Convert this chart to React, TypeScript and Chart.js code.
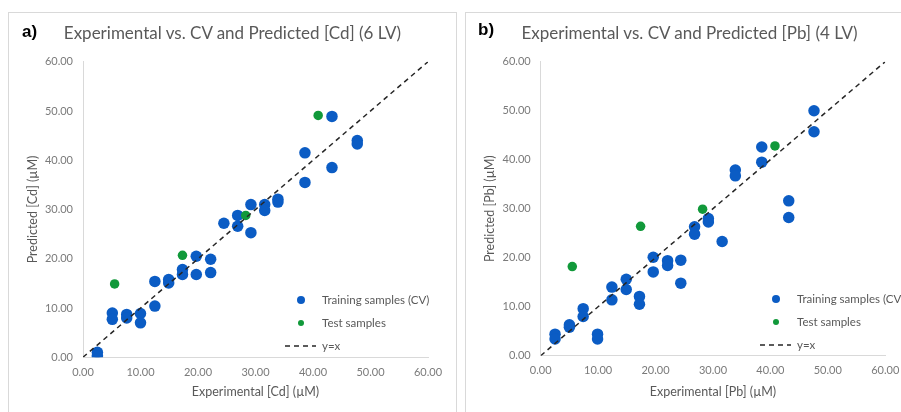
import React, { useEffect, useRef } from "react";
import { Chart, registerables } from "chart.js";

Chart.register(...registerables);

// ---------- data ----------
const axisTicks = [0, 10, 20, 30, 40, 50, 60];
const identityLine = [0, 60];
const seriesLabels = ["Training samples (CV)", "Test samples", "y=x"];

const cdTrainX = [2.5, 2.5, 5.1, 5.1, 7.6, 7.6, 10.0, 10.0, 12.5, 12.5, 14.9, 14.9, 17.3, 17.3, 19.7, 19.7, 22.2, 22.2, 24.5, 26.9, 26.9, 29.2, 29.2, 31.6, 31.6, 33.9, 33.9, 38.6, 38.6, 43.3, 43.3, 47.7, 47.7];
const cdTrainY = [1.0, 0.3, 9.0, 7.7, 8.7, 8.0, 8.9, 7.0, 10.4, 15.4, 15.8, 15.1, 17.8, 16.8, 20.5, 16.8, 19.9, 17.2, 27.2, 28.8, 26.6, 31.0, 25.3, 31.0, 29.8, 32.1, 31.5, 41.5, 35.5, 48.9, 38.5, 44.0, 43.3];
const cdTestX = [5.5, 17.3, 28.3, 40.9];
const cdTestY = [14.9, 20.7, 28.8, 49.1];

const pbTrainX = [2.5, 2.5, 5.0, 5.0, 7.4, 7.4, 9.9, 9.9, 12.4, 12.4, 14.9, 14.9, 17.2, 17.2, 19.6, 19.6, 22.1, 22.1, 24.4, 24.4, 26.8, 26.8, 29.2, 29.2, 31.6, 33.9, 33.9, 38.5, 38.5, 43.2, 43.2, 47.6, 47.6];
const pbTrainY = [4.4, 3.4, 6.3, 5.8, 9.6, 8.0, 4.4, 3.4, 14.0, 11.4, 15.6, 13.5, 12.1, 10.5, 20.1, 17.1, 19.4, 18.4, 19.5, 14.8, 26.3, 24.8, 28.0, 27.3, 23.3, 37.9, 36.7, 42.6, 39.5, 31.6, 28.2, 50.0, 45.7];
const pbTestX = [5.5, 17.4, 28.2, 40.8];
const pbTestY = [18.2, 26.4, 29.9, 42.8];

// ---------- style ----------
const BLUE = "#0b5cc4";
const GREEN = "#11993a";
const LINE = "#262626";
const TICK = "#7a7a7a";
const TEXT = "#595959";
const FONT = "Lato, 'Noto Sans', sans-serif";
const W = 447;
const H = 399;

const cornerLegend = {
  id: "cornerLegend",
  afterDraw(chart: any, _args: any, opts: any) {
    if (!opts || opts.x == null) return;
    const ctx = chart.ctx;
    const ds = chart.data.datasets;
    ctx.save();
    ctx.font = `11.5px ${FONT}`;
    ctx.textBaseline = "middle";
    ctx.textAlign = "left";
    ds.forEach((d: any, i: number) => {
      const y = opts.y + i * opts.dy;
      if (d.showLine) {
        ctx.save();
        ctx.strokeStyle = d.borderColor;
        ctx.lineWidth = d.borderWidth;
        ctx.setLineDash(d.borderDash || []);
        ctx.beginPath();
        ctx.moveTo(opts.x - 16, y);
        ctx.lineTo(opts.x + 15, y);
        ctx.stroke();
        ctx.restore();
      } else {
        ctx.beginPath();
        ctx.fillStyle = d.backgroundColor;
        ctx.arc(opts.x, y, i === 0 ? 4 : 3, 0, Math.PI * 2);
        ctx.fill();
      }
      ctx.fillStyle = TEXT;
      ctx.fillText(d.label, opts.textX, y);
    });
    ctx.restore();
  },
};

type PanelProps = {
  left: number;
  tag: string;
  tagX: number;
  tagY: number;
  title: string;
  xTitle: string;
  yTitle: string;
  trainX: number[];
  trainY: number[];
  testX: number[];
  testY: number[];
  area: { left: number; right: number; top: number; bottom: number };
  legend: { x: number; y: number; dy: number; textX: number };
};

function Panel(p: PanelProps) {
  const ref = useRef<HTMLCanvasElement | null>(null);
  useEffect(() => {
    if (!ref.current) return;
    const tickFont = { family: FONT, size: 11 };
    const titleFont = { family: FONT, size: 12.5 };
    const setTicks = (s: any) => {
      s.ticks = axisTicks.map((v) => ({ value: v }));
    };
    const chart = new Chart(ref.current, {
      type: "scatter",
      data: {
        datasets: [
          {
            label: seriesLabels[0],
            data: p.trainX.map((x, i) => ({ x, y: p.trainY[i] })),
            backgroundColor: BLUE,
            borderWidth: 0,
            pointRadius: 5.75,
            pointBorderWidth: 0,
            order: 2,
          },
          {
            label: seriesLabels[1],
            data: p.testX.map((x, i) => ({ x, y: p.testY[i] })),
            backgroundColor: GREEN,
            borderWidth: 0,
            pointRadius: 4.75,
            pointBorderWidth: 0,
            order: 1,
          },
          {
            label: seriesLabels[2],
            data: identityLine.map((v) => ({ x: v, y: v })),
            showLine: true,
            borderColor: LINE,
            borderWidth: 1.5,
            borderDash: [5, 4],
            pointRadius: 0,
            fill: false,
            order: 0,
          },
        ] as any,
      },
      options: {
        responsive: false,
        animation: false,
        events: [],
        layout: {
          padding: { left: 0, right: W - p.area.right, top: p.area.top, bottom: 0 },
        },
        plugins: {
          legend: { display: false },
          tooltip: { enabled: false },
          cornerLegend: p.legend,
        } as any,
        scales: {
          x: {
            type: "linear",
            min: 0,
            max: 60,
            afterBuildTicks: setTicks,
            afterFit: (s: any) => {
              s.height = H - p.area.bottom;
            },
            grid: { display: false, drawTicks: false },
            border: { display: true, color: "#d9d9d9", width: 1 },
            ticks: {
              padding: 8.5,
              color: TICK,
              font: tickFont,
              maxRotation: 0,
              autoSkip: false,
              callback: (v: any) => Number(v).toFixed(2),
            },
            title: {
              display: true,
              text: p.xTitle,
              color: TEXT,
              font: titleFont,
              padding: { top: 0, bottom: 12.5 },
            },
          },
          y: {
            type: "linear",
            min: 0,
            max: 60,
            afterBuildTicks: setTicks,
            afterFit: (s: any) => {
              s.width = p.area.left;
            },
            grid: { display: false, drawTicks: false },
            border: { display: true, color: "#d9d9d9", width: 1 },
            ticks: {
              padding: 10,
              color: TICK,
              font: tickFont,
              autoSkip: false,
              callback: (v: any) => Number(v).toFixed(2),
            },
            title: {
              display: true,
              text: p.yTitle,
              color: TEXT,
              font: titleFont,
              padding: { top: 16.5, bottom: 0 },
            },
          },
        },
      } as any,
      plugins: [cornerLegend],
    });
    return () => chart.destroy();
  }, []);

  return (
    <div
      style={{
        position: "absolute",
        left: p.left,
        top: 12,
        width: W,
        height: 420,
        border: "1px solid #d9d9d9",
        background: "#fff",
      }}
    >
      <canvas
        ref={ref}
        width={W}
        height={H}
        style={{ position: "absolute", left: 0, top: 0, width: W, height: H }}
      />
      <div
        style={{
          position: "absolute",
          left: p.tagX,
          top: p.tagY,
          font: "bold 17px 'Liberation Sans', Arial, sans-serif",
          lineHeight: "20px",
          color: "#000",
        }}
      >
        {p.tag}
      </div>
      <div
        style={{
          position: "absolute",
          left: 0,
          top: 10,
          width: W,
          textAlign: "center",
          fontFamily: FONT,
          fontSize: 17,
          lineHeight: "20px",
          color: TEXT,
          whiteSpace: "nowrap",
        }}
      >
        {p.title}
      </div>
    </div>
  );
}

export default function App() {
  return (
    <div
      style={{
        position: "absolute",
        left: 0,
        top: 0,
        width: 901,
        height: 412,
        overflow: "hidden",
        background: "#fff",
      }}
    >
      <Panel
        left={8}
        tag="a)"
        tagX={13}
        tagY={9}
        title="Experimental vs. CV and Predicted [Cd] (6 LV)"
        xTitle="Experimental [Cd] (µM)"
        yTitle="Predicted [Cd] (µM)"
        trainX={cdTrainX}
        trainY={cdTrainY}
        testX={cdTestX}
        testY={cdTestY}
        area={{ left: 74, right: 419, top: 48.7, bottom: 344.3 }}
        legend={{ x: 292, y: 287, dy: 23, textX: 313 }}
      />
      <Panel
        left={465}
        tag="b)"
        tagX={12}
        tagY={7}
        title="Experimental vs. CV and Predicted [Pb] (4 LV)"
        xTitle="Experimental [Pb] (µM)"
        yTitle="Predicted [Pb] (µM)"
        trainX={pbTrainX}
        trainY={pbTrainY}
        testX={pbTestX}
        testY={pbTestY}
        area={{ left: 74.7, right: 419.2, top: 48.7, bottom: 342.7 }}
        legend={{ x: 310, y: 286, dy: 23, textX: 331 }}
      />
    </div>
  );
}
